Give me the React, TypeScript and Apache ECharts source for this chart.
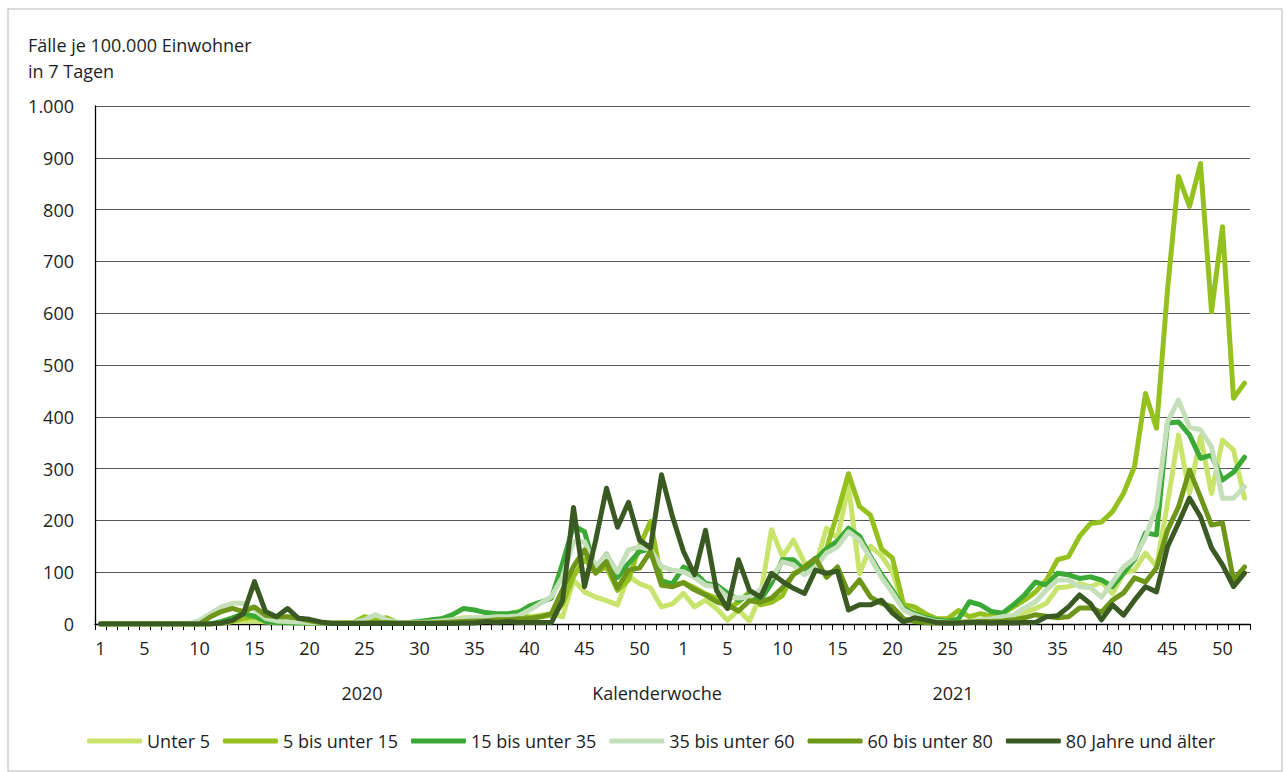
import React, { useEffect, useRef } from "react";
import * as echarts from "echarts";

const YEARS = ["2020", "2021"];
const WEEKS_PER_YEAR = [53, 52];
const SERIES_NAMES = [
  "Unter 5",
  "5 bis unter 15",
  "15 bis unter 35",
  "35 bis unter 60",
  "60 bis unter 80",
  "80 Jahre und älter",
];
const COLORS = ["#c8e46c", "#95c11f", "#3aa935", "#c4dfb9", "#6e9619", "#3b5a23"];

const unter5 = [
  0, 0, 0, 0, 0, 0, 0, 0, 0, 0, 0, 2, 5, 6, 6, 4, 3, 3, 2, 2, 1, 1, 1, 2, 5, 6, 5, 3, 3, 3,
  4, 5, 8, 12, 12, 12, 15, 18, 25, 14, 17, 20, 14, 85, 62, 52, 45, 37, 92, 78, 70, 33, 39,
  59, 33, 46, 30, 7, 27, 6, 55, 182, 130, 162, 118, 112, 185, 165, 268, 97, 150, 132, 100,
  35, 30, 12, 5, 3, 3, 5, 8, 8, 10, 15, 22, 30, 40, 70, 72, 78, 72, 81, 59,
  98, 104, 137, 111, 233, 365, 252, 362, 252, 355, 336, 243,
];
const von5bis15 = [
  0, 0, 0, 0, 0, 0, 0, 0, 0, 0, 0, 2, 5, 11, 14, 8, 11, 8, 4, 2, 1, 1, 2, 3, 14, 8, 12, 3, 2, 2,
  3, 4, 6, 8, 8, 10, 10, 15, 18, 12, 14, 17, 38, 92, 125, 100, 110, 65, 85, 150, 198, 85, 75,
  80, 70, 58, 50, 30, 42, 62, 37, 42, 55, 98, 104, 124, 145, 215, 290, 227, 210, 145, 127,
  38, 33, 20, 10, 10, 26, 14, 20, 15, 20, 33, 46, 62, 85, 124, 130, 169, 194, 197, 217,
  252, 304, 445, 378, 645, 864, 806, 889, 603, 767, 436, 465,
];
const von15bis35 = [
  0, 0, 0, 0, 0, 0, 0, 0, 0, 0, 0, 5, 12, 20, 15, 5, 3, 3, 2, 2, 1, 1, 1, 1, 2, 3, 3, 3, 3, 5,
  8, 10, 18, 30, 27, 22, 20, 20, 22, 35, 42, 50, 117, 190, 178, 104, 135, 90, 117, 140, 145, 82, 78,
  110, 100, 78, 75, 60, 46, 56, 46, 79, 124, 124, 104, 124, 145, 160, 185, 170, 130, 95, 65,
  30, 20, 12, 8, 5, 10, 43, 37, 24, 21, 37, 56, 81, 75, 98, 95, 88, 91, 85, 72,
  98, 124, 176, 172, 388, 390, 365, 320, 326, 278, 293, 322,
];
const von35bis60 = [
  0, 0, 0, 0, 0, 0, 0, 0, 0, 7, 20, 33, 40, 40, 27, 11, 6, 5, 4, 3, 2, 2, 2, 3, 8, 18, 8, 4, 3, 3,
  4, 6, 8, 10, 12, 12, 14, 14, 16, 27, 40, 53, 91, 159, 159, 111, 134, 100, 143, 149, 143, 111, 104,
  101, 90, 75, 72, 52, 50, 52, 66, 90, 120, 114, 95, 110, 137, 149, 178, 162, 127, 90, 60,
  27, 17, 10, 5, 3, 3, 5, 8, 10, 14, 17, 31, 43, 66, 85, 85, 72, 70, 52, 81,
  110, 127, 168, 226, 390, 432, 380, 375, 342, 243, 243, 265,
];
const von60bis80 = [
  0, 0, 0, 0, 0, 0, 0, 0, 0, 0, 14, 24, 30, 24, 33, 17, 14, 14, 11, 6, 3, 2, 2, 2, 2, 3, 3, 2, 2, 2,
  2, 3, 4, 5, 6, 6, 8, 8, 10, 10, 14, 20, 66, 111, 143, 98, 120, 69, 104, 108, 140, 75, 72,
  80, 66, 56, 43, 37, 25, 45, 42, 50, 70, 95, 110, 127, 90, 110, 60, 85, 52, 40, 33,
  10, 5, 3, 2, 2, 3, 4, 5, 5, 6, 8, 12, 18, 15, 12, 14, 31, 31, 23, 46,
  60, 89, 81, 108, 181, 226, 297, 245, 191, 195, 85, 110,
];
const ab80 = [
  0, 0, 0, 0, 0, 0, 0, 0, 0, 0, 0, 2, 7, 20, 82, 24, 14, 30, 11, 9, 4, 1, 1, 1, 1, 1, 1, 1, 1, 1,
  1, 1, 1, 2, 2, 5, 3, 5, 3, 3, 3, 3, 45, 225, 72, 160, 262, 187, 235, 162, 147, 288, 207,
  140, 95, 181, 65, 30, 124, 65, 52, 98, 82, 69, 59, 104, 98, 102, 27, 37, 37, 46, 21,
  4, 12, 8, 3, 2, 2, 3, 3, 2, 3, 2, 3, 3, 14, 16, 33, 56, 39, 8, 37,
  17, 46, 72, 62, 149, 195, 243, 207, 147, 114, 72, 98,
];
const SERIES_VALUES = [unter5, von5bis15, von15bis35, von35bis60, von60bis80, ab80];

const Y_TITLE = "Fälle je 100.000 Einwohner\nin 7 Tagen";
const X_TITLE = "Kalenderwoche";

const categories = YEARS.flatMap((y, i) =>
  Array.from({ length: WEEKS_PER_YEAR[i] }, (_, k) => `${y}-${k + 1}`)
);

const FONT = "'Open Sans', 'Noto Sans', sans-serif";
const FS = 18;
const TXT = "#1e1e1e";

function fmtY(v: number) {
  if (v >= 1000) return `${Math.floor(v / 1000)}.${String(v % 1000).padStart(3, "0")}`;
  return String(v);
}

export default function App() {
  const ref = useRef<HTMLDivElement>(null);
  useEffect(() => {
    if (!ref.current) return;
    const chart = echarts.init(ref.current, undefined, { renderer: "svg" });
    chart.setOption({
      animation: false,
      backgroundColor: "#fff",
      textStyle: { fontFamily: FONT },
      grid: { left: 95, right: 36, top: 106, bottom: 148, containLabel: false },
      legend: {
        data: SERIES_NAMES,
        left: 87,
        top: 732,
        padding: 0,
        icon: "roundRect",
        itemWidth: 55,
        itemHeight: 5,
        itemGap: 13,
        textStyle: { fontFamily: FONT, fontSize: FS, color: TXT },
      },
      xAxis: {
        type: "category",
        data: categories,
        boundaryGap: true,
        axisLine: { show: true, lineStyle: { color: "#000", width: 1.3 } },
        axisTick: { show: true, interval: 0, length: 6, lineStyle: { color: "#000", width: 1 } },
        axisLabel: {
          interval: (_i: number, v: string) => {
            const w = +v.split("-")[1];
            return w === 1 || w % 5 === 0;
          },
          formatter: (v: string) => v.split("-")[1],
          margin: 15,
          fontFamily: FONT,
          fontSize: FS,
          color: TXT,
        },
        splitLine: { show: false },
      },
      yAxis: {
        type: "value",
        min: 0,
        max: 1000,
        interval: 100,
        axisLine: { show: true, lineStyle: { color: "#000", width: 1.3 } },
        axisTick: { show: false },
        axisLabel: { formatter: fmtY, margin: 21, fontFamily: FONT, fontSize: FS, color: TXT },
        splitLine: { show: true, lineStyle: { color: "#555", width: 1.2 } },
      },
      series: SERIES_NAMES.map((name, i) => ({
        name,
        type: "line",
        data: SERIES_VALUES[i],
        symbol: "none",
        showSymbol: false,
        smooth: false,
        color: COLORS[i],
        itemStyle: { color: COLORS[i] },
        lineStyle: { width: 5, color: COLORS[i], cap: "round", join: "round" },
        z: 2 + i,
      })),
      graphic: [
        {
          type: "rect",
          shape: { x: 8, y: 9, width: 1274, height: 762 },
          style: { fill: "none", stroke: "#d0d0d0", lineWidth: 1.5 },
          silent: true,
        },
        {
          type: "text",
          x: 28,
          y: 32,
          style: { text: Y_TITLE, font: `${FS}px ${FONT}`, fill: TXT, lineHeight: 26 },
        },
        {
          type: "text",
          x: 362,
          y: 693,
          style: { text: YEARS[0], font: `${FS}px ${FONT}`, fill: TXT, align: "center", verticalAlign: "middle" },
        },
        {
          type: "text",
          x: 657,
          y: 693,
          style: { text: X_TITLE, font: `${FS}px ${FONT}`, fill: TXT, align: "center", verticalAlign: "middle" },
        },
        {
          type: "text",
          x: 953,
          y: 693,
          style: { text: YEARS[1], font: `${FS}px ${FONT}`, fill: TXT, align: "center", verticalAlign: "middle" },
        },
      ],
    });
    return () => chart.dispose();
  }, []);
  return (
    <div
      ref={ref}
      style={{ position: "fixed", left: 0, top: 0, width: 1286, height: 772, background: "#fff" }}
    />
  );
}
